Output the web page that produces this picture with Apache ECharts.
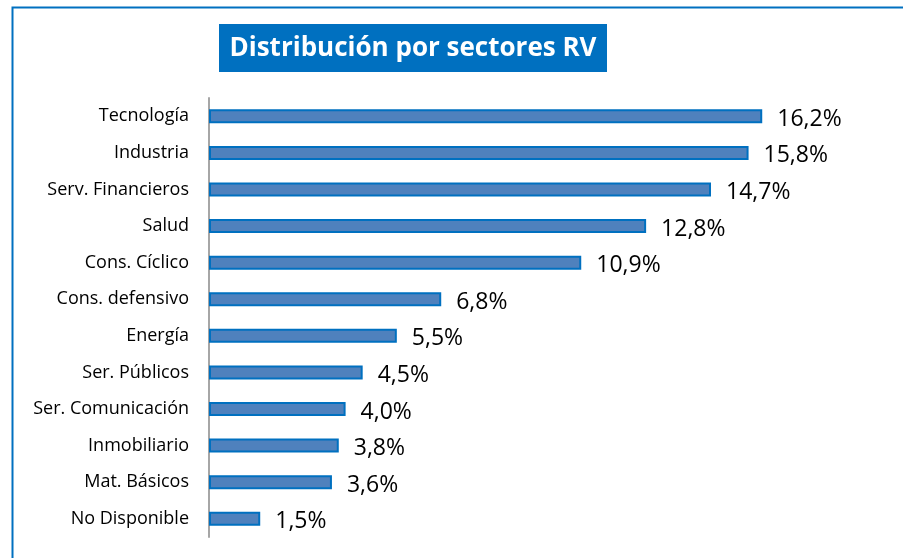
<!DOCTYPE html>
<html>
<head>
<meta charset="utf-8">
<script src="https://cdn.jsdelivr.net/npm/echarts@6/dist/echarts.min.js"></script>
<style>
  html, body { margin: 0; padding: 0; background: #fff; }
  #chart-container { width: 903px; height: 558px; }
</style>
</head>
<body>
<div id="chart-container"></div>
<script>
// sectors, top to bottom as drawn
const sectors = [
  "Tecnología", "Industria", "Serv. Financieros", "Salud", "Cons. Cíclico",
  "Cons. defensivo", "Energía", "Ser. Públicos", "Ser. Comunicación",
  "Inmobiliario", "Mat. Básicos", "No Disponible"
];
const weights = [16.2, 15.8, 14.7, 12.8, 10.9, 6.8, 5.5, 4.5, 4.0, 3.8, 3.6, 1.5];
const titleText = "Distribución por sectores RV";

const chartContainer = document.getElementById("chart-container");
const myChart = echarts.init(chartContainer);

const option = {
  animation: false,
  textStyle: { fontFamily: "'Open Sans', sans-serif" },
  graphic: [
    {
      type: "rect",
      left: 10, top: 5,
      shape: { width: 1000, height: 1000 },
      style: { fill: "none", stroke: "#0070C0", lineWidth: 2 },
    },
    {
      type: "rect",
      left: 219, top: 24,
      shape: { width: 388, height: 48 },
      style: { fill: "#0070C0" },
    },
    {
      type: "text",
      x: 413, y: 49,
      style: {
        text: titleText,
        fill: "#fff",
        font: "bold 26px 'Open Sans', sans-serif",
        align: "center",
        verticalAlign: "middle",
      },
    },
  ],
  grid: { left: 209, top: 98, width: 683, height: 439 },
  xAxis: {
    type: "value",
    min: 0,
    max: 20,
    show: false,
  },
  yAxis: {
    type: "category",
    data: sectors,
    inverse: true,
    axisLine: { lineStyle: { color: "#A6A6A6", width: 2 } },
    axisTick: { show: false },
    axisLabel: { color: "#000", fontSize: 18, margin: 20, padding: [3, 0, 0, 0] },
  },
  series: [
    {
      type: "bar",
      data: weights,
      barWidth: 14,
      itemStyle: { color: "#4F81BD", borderColor: "#0070C0", borderWidth: 2 },
      label: {
        show: true,
        position: "right",
        distance: 15,
        offset: [0, 3],
        color: "#000",
        fontSize: 23,
        formatter: (p) => p.value.toFixed(1).replace(".", ",") + "%",
      },
    },
  ],
};

myChart.setOption(option);
</script>
</body>
</html>
